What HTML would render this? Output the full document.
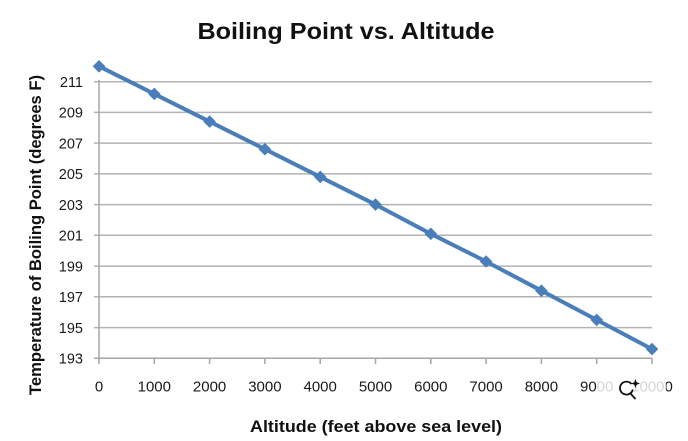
<!DOCTYPE html>
<html><head><meta charset="utf-8"><style>
html,body{margin:0;padding:0;background:#fff;}
svg{display:block;}
</style></head><body>
<svg width="688" height="441" viewBox="0 0 688 441" xmlns="http://www.w3.org/2000/svg">
<rect width="688" height="441" fill="#fff"/>
<text x="346" y="39" text-anchor="middle" font-family="Liberation Sans, sans-serif" font-weight="bold" font-size="23" textLength="297" lengthAdjust="spacingAndGlyphs" fill="#111">Boiling Point vs. Altitude</text>
<g stroke="#b3b3b3" stroke-width="1.5">
<line x1="94" y1="81.7" x2="652" y2="81.7"/>
<line x1="94" y1="112.4" x2="652" y2="112.4"/>
<line x1="94" y1="143.1" x2="652" y2="143.1"/>
<line x1="94" y1="173.9" x2="652" y2="173.9"/>
<line x1="94" y1="204.6" x2="652" y2="204.6"/>
<line x1="94" y1="235.3" x2="652" y2="235.3"/>
<line x1="94" y1="266.1" x2="652" y2="266.1"/>
<line x1="94" y1="296.8" x2="652" y2="296.8"/>
<line x1="94" y1="327.6" x2="652" y2="327.6"/>
</g>
<g stroke="#a6a6a6" stroke-width="1.5">
<line x1="94" y1="358.3" x2="652" y2="358.3"/>
<line x1="99" y1="80" x2="99" y2="364"/>
<line x1="154.3" y1="358.3" x2="154.3" y2="364"/>
<line x1="209.6" y1="358.3" x2="209.6" y2="364"/>
<line x1="264.9" y1="358.3" x2="264.9" y2="364"/>
<line x1="320.2" y1="358.3" x2="320.2" y2="364"/>
<line x1="375.5" y1="358.3" x2="375.5" y2="364"/>
<line x1="430.8" y1="358.3" x2="430.8" y2="364"/>
<line x1="486.1" y1="358.3" x2="486.1" y2="364"/>
<line x1="541.4" y1="358.3" x2="541.4" y2="364"/>
<line x1="596.7" y1="358.3" x2="596.7" y2="364"/>
<line x1="652" y1="358.3" x2="652" y2="364"/>
</g>
<g font-family="Liberation Sans, sans-serif" font-size="14.5" fill="#1a1a1a" text-anchor="end">
<text x="83" y="87">211</text>
<text x="83" y="117.7">209</text>
<text x="83" y="148.4">207</text>
<text x="83" y="179.2">205</text>
<text x="83" y="209.9">203</text>
<text x="83" y="240.6">201</text>
<text x="83" y="271.4">199</text>
<text x="83" y="302.1">197</text>
<text x="83" y="332.9">195</text>
<text x="83" y="363.6">193</text>
</g>
<g font-family="Liberation Sans, sans-serif" font-size="15" fill="#1a1a1a" text-anchor="middle">
<text x="99" y="391.5">0</text>
<text x="154.3" y="391.5">1000</text>
<text x="209.6" y="391.5">2000</text>
<text x="264.9" y="391.5">3000</text>
<text x="320.2" y="391.5">4000</text>
<text x="375.5" y="391.5">5000</text>
<text x="430.8" y="391.5">6000</text>
<text x="486.1" y="391.5">7000</text>
<text x="541.4" y="391.5">8000</text>
<text x="596.7" y="391.5">9000</text>
<text x="652" y="391.5">10000</text>
</g>
<rect x="597" y="377" width="69" height="18" fill="#fff" opacity="0.82"/>
<g stroke="#111" stroke-width="1.8" fill="none">
<path d="M 631.5 384 A 6.5 6.5 0 1 0 632.8 389.5"/>
<line x1="630.5" y1="393.5" x2="635.5" y2="399"/>
</g>
<path d="M 635.5 379 L 636.7 382.3 L 640 383.5 L 636.7 384.7 L 635.5 388 L 634.3 384.7 L 631 383.5 L 634.3 382.3 Z" fill="#111"/>
<text x="376" y="432" text-anchor="middle" font-family="Liberation Sans, sans-serif" font-weight="bold" font-size="17" textLength="252" lengthAdjust="spacingAndGlyphs" fill="#111">Altitude (feet above sea level)</text>
<text transform="translate(41,235) rotate(-90)" text-anchor="middle" font-family="Liberation Sans, sans-serif" font-weight="bold" font-size="17" textLength="320" lengthAdjust="spacingAndGlyphs" fill="#111">Temperature of Boiling Point (degrees F)</text>
<polyline fill="none" stroke="#4a7ebb" stroke-width="4" stroke-linejoin="round" points="99,66.3 154.3,93.9 209.6,121.6 264.9,149.2 320.2,176.9 375.5,204.6 430.8,233.8 486.1,261.5 541.4,290.7 596.7,319.9 652,349.1"/>
<g fill="#4a7ebb">
<path d="M99,60 L105.3,66.3 L99,72.6 L92.7,66.3 Z"/>
<path d="M154.3,87.6 L160.6,93.9 L154.3,100.2 L148,93.9 Z"/>
<path d="M209.6,115.3 L215.9,121.6 L209.6,127.9 L203.3,121.6 Z"/>
<path d="M264.9,142.9 L271.2,149.2 L264.9,155.5 L258.6,149.2 Z"/>
<path d="M320.2,170.6 L326.5,176.9 L320.2,183.2 L313.9,176.9 Z"/>
<path d="M375.5,198.3 L381.8,204.6 L375.5,210.9 L369.2,204.6 Z"/>
<path d="M430.8,227.5 L437.1,233.8 L430.8,240.1 L424.5,233.8 Z"/>
<path d="M486.1,255.2 L492.4,261.5 L486.1,267.8 L479.8,261.5 Z"/>
<path d="M541.4,284.4 L547.7,290.7 L541.4,297 L535.1,290.7 Z"/>
<path d="M596.7,313.6 L603,319.9 L596.7,326.2 L590.4,319.9 Z"/>
<path d="M652,342.8 L658.3,349.1 L652,355.4 L645.7,349.1 Z"/>
</g>
</svg>
</body></html>
